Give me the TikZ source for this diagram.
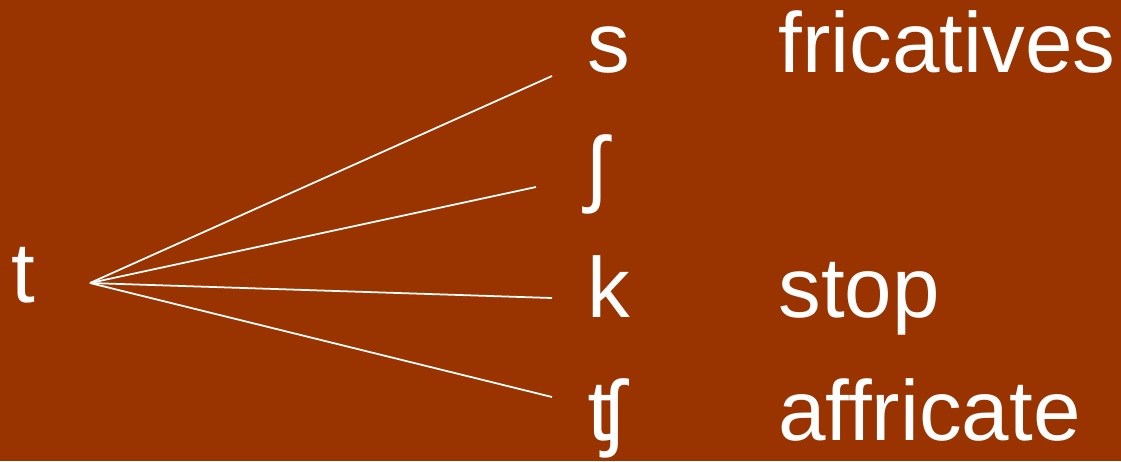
\documentclass[tikz,border=0pt]{standalone}
\usepackage{fontspec}
\setmainfont{Liberation Sans}
\definecolor{slidebrown}{HTML}{993300}
\begin{document}
\begin{tikzpicture}[x=0.02cm, y=-0.02cm,
    lbl/.style={anchor=base west, inner sep=0pt, text=white,
                font=\fontsize{48.6}{58}\selectfont},
    branch/.style={draw=white, line width=1pt}]

    % fondo
    \fill[slidebrown] (0,0) rectangle (1121,461);
    \useasboundingbox (0,0) rectangle (1121,461);

    % sonido de partida
    \node[lbl] (t) at (11,302) {t};
    \coordinate (hub) at (90,283);

    % sonidos resultantes
    \node[lbl] (s)   at (587,72)  {s};
    \node[lbl] (sh)  at (587,196) {ʃ};
    \node[lbl] (k)   at (587,317) {k};
    \node[lbl] (tsh) at (587,440) {ʧ};

    % tipos
    \node[lbl] (fric) at (778,72)  {fricatives};
    \node[lbl] (stop) at (778,317) {stop};
    \node[lbl] (affr) at (778,440) {affricate};

    % ramas
    \coordinate (e1) at (552,76);
    \coordinate (e2) at (536,187);
    \coordinate (e3) at (552,298);
    \coordinate (e4) at (552,397);
    \foreach \e in {e1,e2,e3,e4}
        \draw[branch] (hub) -- (\e);

\end{tikzpicture}
\end{document}
